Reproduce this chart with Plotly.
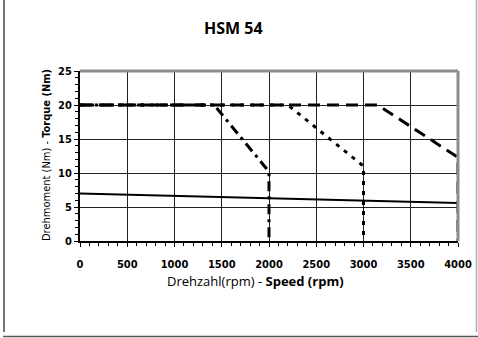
import plotly.graph_objects as go

# Data
speed_2000 = [0, 1420, 2000, 2000]
torque_2000 = [20, 20, 10.2, 0]
speed_3000 = [0, 2200, 3000, 3000]
torque_3000 = [20, 20, 11.0, 0]
speed_4000 = [0, 3150, 4000, 4000]
torque_4000 = [20, 20, 12.3, 0]
speed_cont = [0, 2000, 4000]
torque_cont = [7.0, 6.3, 5.6]

x_ticks = [0, 500, 1000, 1500, 2000, 2500, 3000, 3500, 4000]
y_ticks = [0, 5, 10, 15, 20, 25]

W, H = 478, 338
L, R, T, B = 80, 458, 71, 241

fig = go.Figure()
fig.add_trace(go.Scatter(x=speed_4000, y=torque_4000, mode="lines",
                         line=dict(color="black", width=3, dash="12px,7px")))
fig.add_trace(go.Scatter(x=speed_3000, y=torque_3000, mode="lines",
                         line=dict(color="black", width=3, dash="4px,6px")))
fig.add_trace(go.Scatter(x=speed_2000, y=torque_2000, mode="lines",
                         line=dict(color="black", width=3, dash="10px,5px,3px,5px")))
fig.add_trace(go.Scatter(x=speed_cont, y=torque_cont, mode="lines",
                         line=dict(color="black", width=2)))

narrow = "DejaVu Sans Condensed, Liberation Sans Narrow, sans-serif"
tickfont = dict(family=narrow, size=11, color="black")

fig.update_layout(
    width=W, height=H,
    margin=dict(l=L, r=W - R, t=T, b=H - B, autoexpand=False),
    paper_bgcolor="white", plot_bgcolor="white",
    showlegend=False,
    xaxis=dict(range=[0, 4000], tickvals=x_ticks, ticktext=[f"<b>{v}</b>" for v in x_ticks],
               showgrid=True, gridcolor="#222", gridwidth=1,
               showline=True, linecolor="black", linewidth=2,
               ticks="outside", ticklen=4, tickcolor="black", tickfont=tickfont,
               ticklabelstandoff=8, automargin=False,
               minor=dict(dtick=100, ticks="outside", ticklen=3, tickcolor="black", showgrid=False),
               zeroline=False, fixedrange=True),
    yaxis=dict(range=[0, 25], tickvals=y_ticks, ticktext=[f"<b>{v}</b>" for v in y_ticks],
               showgrid=True, gridcolor="#222", gridwidth=1,
               showline=True, linecolor="black", linewidth=2,
               ticks="outside", ticklen=4, tickcolor="black", tickfont=tickfont,
               automargin=False,
               minor=dict(dtick=1, ticks="outside", ticklen=3, tickcolor="black", showgrid=False),
               zeroline=False, fixedrange=True),
)

def px(x):
    return (x - L) / (R - L)

def py(y):
    return (B - y) / (B - T)

shapes = [
    dict(type="line", xref="paper", yref="paper", x0=0, x1=1, y0=1, y1=1,
         line=dict(color="#8c8c8c", width=3)),
    dict(type="line", xref="paper", yref="paper", x0=1, x1=1, y0=0, y1=1,
         line=dict(color="#8c8c8c", width=3)),
    dict(type="line", xref="paper", yref="paper", x0=px(4), x1=px(4), y0=py(0), y1=py(332),
         line=dict(color="#444", width=1.5)),
    dict(type="line", xref="paper", yref="paper", x0=px(476.5), x1=px(476.5), y0=py(0), y1=py(332),
         line=dict(color="#aaa", width=1.5)),
    dict(type="line", xref="paper", yref="paper", x0=px(3), x1=px(478), y0=py(336.5), y1=py(336.5),
         line=dict(color="#555", width=1.5)),
]
fig.update_layout(shapes=shapes)

fig.add_annotation(x=px(233), y=py(28), xref="paper", yref="paper", text="<b>HSM 54</b>",
                   showarrow=False, font=dict(family="Open Sans, sans-serif", size=16, color="black"),
                   xanchor="center", yanchor="middle")
fig.add_annotation(x=px(255), y=py(281), xref="paper", yref="paper",
                   text="Drehzahl(rpm) - <b>Speed (rpm)</b>",
                   showarrow=False, font=dict(family="Open Sans, sans-serif", size=13, color="black"),
                   xanchor="center", yanchor="middle")
fig.add_annotation(x=px(46), y=py(155), xref="paper", yref="paper",
                   text="Drehmoment (Nm) - <b>Torque (Nm)</b>", textangle=-90,
                   showarrow=False, font=dict(family=narrow, size=11, color="black"),
                   xanchor="center", yanchor="middle")

fig.write_html("out.html", config={"displayModeBar": False},
               post_script="document.body.style.margin='0';document.body.style.overflow='hidden';")
